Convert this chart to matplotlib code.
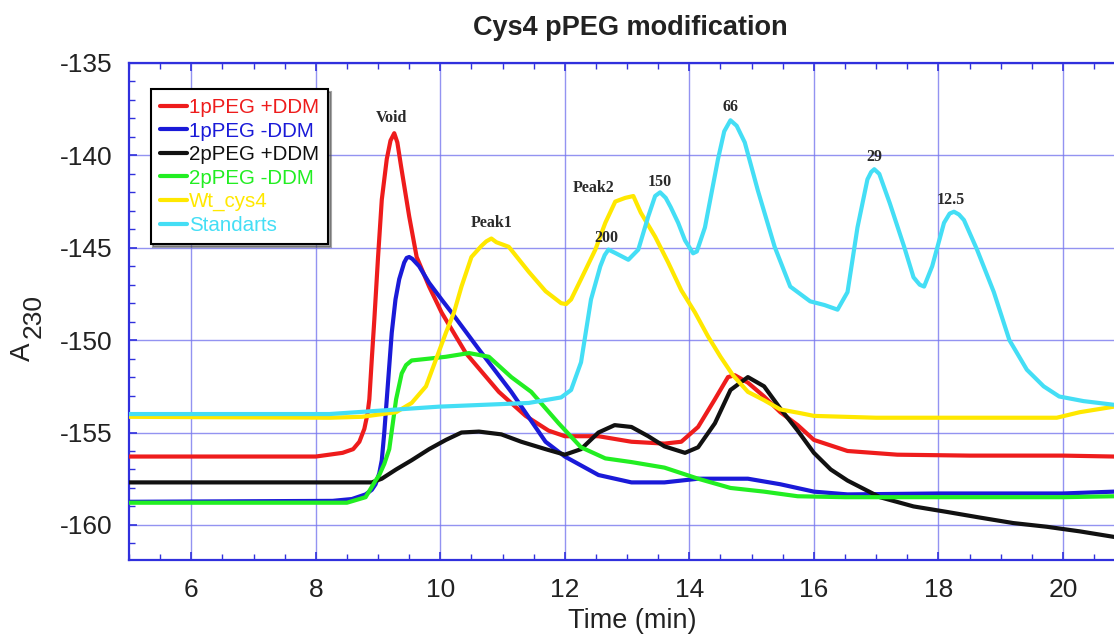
import matplotlib
matplotlib.use("Agg")
import matplotlib.pyplot as plt
from matplotlib.ticker import MultipleLocator

# ---------------- data ----------------
red_x = [5.0, 8.0, 8.43, 8.6, 8.7, 8.78, 8.83, 8.86, 8.9, 8.94, 9.0, 9.06, 9.14, 9.2, 9.26,
         9.31, 9.37, 9.5, 9.62, 9.82, 10.02, 10.41, 10.94, 11.37, 11.74, 12.0, 12.54, 13.07,
         13.6, 13.87, 14.14, 14.41, 14.62, 14.73, 14.94, 15.2, 15.46, 15.74, 16.0, 16.54,
         17.34, 18.5, 20.0, 20.82]
red_y = [-156.3, -156.3, -156.1, -155.9, -155.5, -154.8, -154.0, -153.2, -151.0, -148.9,
         -145.5, -142.4, -140.2, -139.2, -138.8, -139.3, -140.6, -143.3, -145.5, -147.1,
         -148.5, -150.7, -152.8, -154.1, -154.9, -155.2, -155.2, -155.5, -155.6, -155.5,
         -154.7, -153.2, -152.0, -151.9, -152.3, -153.05, -153.9, -154.6, -155.4, -156.0,
         -156.2, -156.25, -156.25, -156.3]

blue_x = [5.0, 8.27, 8.58, 8.8, 8.9, 8.96, 9.02, 9.06, 9.1, 9.14, 9.22, 9.28, 9.34, 9.42,
          9.46, 9.5, 9.55, 9.66, 9.82, 10.02, 10.18, 10.62, 11.14, 11.69, 12.0, 12.54, 13.07,
          13.6, 14.14, 14.94, 15.46, 16.0, 16.54, 18.0, 20.0, 20.82]
blue_y = [-158.75, -158.7, -158.6, -158.35, -158.1, -157.8, -157.2, -156.5, -155.0, -153.2,
          -149.6, -147.8, -146.7, -145.8, -145.55, -145.5, -145.6, -146.0, -146.9, -147.8,
          -148.5, -150.5, -152.8, -155.5, -156.3, -157.3, -157.7, -157.7, -157.5, -157.5,
          -157.8, -158.2, -158.35, -158.3, -158.3, -158.2]

black_x = [5.0, 8.9, 9.06, 9.29, 9.54, 9.82, 10.09, 10.34, 10.62, 10.98, 11.3, 11.69, 12.0,
           12.26, 12.54, 12.8, 13.07, 13.34, 13.6, 13.93, 14.14, 14.41, 14.66, 14.94, 15.2,
           15.46, 15.74, 16.0, 16.27, 16.54, 17.06, 17.6, 18.14, 18.66, 19.2, 19.74, 20.27,
           20.82]
black_y = [-157.7, -157.7, -157.5, -157.0, -156.5, -155.9, -155.4, -155.0, -154.95, -155.1,
           -155.5, -155.9, -156.2, -155.9, -155.0, -154.6, -154.7, -155.2, -155.75, -156.1,
           -155.8, -154.5, -152.7, -152.0, -152.5, -153.7, -154.9, -156.1, -157.0, -157.6,
           -158.5, -159.0, -159.3, -159.6, -159.9, -160.1, -160.35, -160.65]

green_x = [5.0, 8.5, 8.8, 8.96, 9.02, 9.1, 9.18, 9.29, 9.38, 9.45, 9.54, 9.82, 10.09, 10.46,
           10.78, 11.14, 11.46, 11.9, 12.26, 12.65, 13.07, 13.6, 14.14, 14.66, 15.2, 15.74,
           16.5, 18.0, 20.0, 20.82]
green_y = [-158.8, -158.8, -158.5, -157.6, -157.3, -156.7, -155.9, -153.2, -151.8, -151.35,
           -151.1, -151.0, -150.9, -150.7, -150.9, -152.0, -152.8, -154.5, -155.8, -156.4,
           -156.6, -156.9, -157.5, -158.0, -158.2, -158.45, -158.5, -158.5, -158.5, -158.45]

yellow_x = [5.0, 8.22, 8.74, 9.29, 9.54, 9.77, 9.93, 10.09, 10.22, 10.34, 10.5, 10.66, 10.74,
            10.82, 10.9, 10.98, 11.1, 11.42, 11.69, 11.94, 12.02, 12.1, 12.26, 12.49, 12.65,
            12.81, 12.97, 13.1, 13.22, 13.45, 13.66, 13.87, 14.09, 14.3, 14.5, 14.7, 14.94,
            15.2, 15.46, 15.78, 16.0, 17.0, 19.0, 19.9, 20.27, 20.82]
yellow_y = [-154.15, -154.2, -154.15, -153.9, -153.4, -152.5, -151.05, -149.6, -148.5, -147.1,
            -145.5, -144.9, -144.65, -144.5, -144.7, -144.8, -144.95, -146.3, -147.35, -148.0,
            -148.05, -147.8, -146.7, -145.1, -143.65, -142.5, -142.3, -142.2, -143.1, -144.4,
            -145.8, -147.3, -148.5, -149.8, -150.9, -151.9, -152.8, -153.25, -153.75, -153.95,
            -154.1, -154.2, -154.2, -154.2, -153.9, -153.6]

cyan_x = [5.0, 8.22, 9.98, 11.42, 11.94, 12.1, 12.26, 12.3, 12.42, 12.57, 12.64, 12.7, 12.82,
          13.02, 13.18, 13.34, 13.45, 13.53, 13.62, 13.7, 13.82, 13.93, 14.06, 14.12, 14.25,
          14.46, 14.56, 14.66, 14.76, 14.89, 15.1, 15.37, 15.62, 15.94, 16.17, 16.38, 16.54,
          16.7, 16.86, 16.92, 16.97, 17.05, 17.22, 17.45, 17.6, 17.7, 17.77, 17.9, 18.09,
          18.18, 18.25, 18.33, 18.41, 18.62, 18.89, 19.14, 19.42, 19.69, 19.94, 20.33, 20.82]
cyan_y = [-154.0, -154.0, -153.6, -153.4, -153.1, -152.7, -151.2, -150.35, -147.8, -146.0,
          -145.4, -145.1, -145.3, -145.65, -145.1, -143.3, -142.2, -142.0, -142.3, -142.8,
          -143.65, -144.6, -145.3, -145.2, -143.9, -140.2, -138.7, -138.1, -138.4, -139.3,
          -141.9, -144.95, -147.1, -147.9, -148.1, -148.35, -147.4, -143.9, -141.3, -140.9,
          -140.75, -141.0, -142.6, -144.95, -146.6, -147.0, -147.1, -146.0, -143.65, -143.15,
          -143.05, -143.2, -143.5, -145.1, -147.4, -150.0, -151.6, -152.5, -153.05, -153.3,
          -153.5]

labels = ["1pPEG +DDM", "1pPEG -DDM", "2pPEG +DDM", "2pPEG -DDM", "Wt_cys4", "Standarts"]
colors = ["#ee1c1c", "#1a1ad8", "#111111", "#22ee22", "#ffe800", "#44def5"]

ann_text = ["Void", "Peak1", "Peak2", "200", "150", "66", "29", "12.5"]
ann_x = [9.21, 10.82, 12.46, 12.66, 13.53, 14.66, 16.97, 18.2]
ann_y = [-137.97, -143.65, -141.76, -144.46, -141.43, -137.38, -140.08, -142.4]

xlim = (5.0, 20.82)
ylim = (-161.9, -135.0)

# ---------------- figure ----------------
plt.rcParams['font.family'] = ['Liberation Sans', 'DejaVu Sans']
plt.rcParams['axes.unicode_minus'] = False
fig = plt.figure(figsize=(11.14, 6.35), dpi=100)
ax = fig.add_axes([129/1114, 75/635, 1 - 129/1114, (560 - 63)/635])

grid_c = "#7878ee"
spine_c = "#3030dd"

series = [(red_x, red_y), (blue_x, blue_y), (black_x, black_y),
          (green_x, green_y), (yellow_x, yellow_y), (cyan_x, cyan_y)]
handles = []
for (xs, ys), lab, c in zip(series, labels, colors):
    h, = ax.plot(xs, ys, color=c, lw=3.0, label=lab, solid_joinstyle='round',
                 solid_capstyle='round', zorder=3)
    handles.append(h)

ax.set_xlim(*xlim)
ax.set_ylim(*ylim)
ax.xaxis.set_major_locator(MultipleLocator(2))
ax.xaxis.set_minor_locator(MultipleLocator(0.5))
ax.yaxis.set_major_locator(MultipleLocator(5))
ax.yaxis.set_minor_locator(MultipleLocator(1))
ax.grid(True, which='major', color=grid_c, lw=1.0, alpha=0.8, zorder=0)
ax.set_axisbelow(True)

for side in ['left', 'bottom', 'top']:
    ax.spines[side].set_color(spine_c)
    ax.spines[side].set_linewidth(1.6)
ax.spines['right'].set_visible(False)

ax.tick_params(which='both', direction='in', color=spine_c, top=True, right=False)
ax.tick_params(which='major', length=6, width=1.2, labelsize=19, labelcolor='#222222')
ax.tick_params(which='minor', length=4, width=1.0)
ax.tick_params(axis='y', which='major', pad=12)
ax.tick_params(axis='x', which='major', pad=13)

for t, x, y in zip(ann_text, ann_x, ann_y):
    ax.text(x, y, t, ha='center', va='center', fontsize=11.5, fontweight='bold',
            family='Liberation Serif', color='#2a2a2a', zorder=5)

leg = ax.legend(handles=handles, loc='upper left', bbox_to_anchor=(0.022, 0.948),
                borderaxespad=0, fontsize=14.8, frameon=True, fancybox=False, shadow=True,
                handlelength=1.3, handletextpad=0.1, labelspacing=0.22, borderpad=0.45)
leg.get_frame().set_edgecolor('black')
leg.get_frame().set_linewidth(1.5)
for txt, c in zip(leg.get_texts(), colors):
    txt.set_color(c)

fig.text(630/1114, 1 - 28/635, "Cys4 pPEG modification", ha='center', va='center',
         fontsize=19.5, fontweight='bold', color='#222222')
fig.text(632/1114, 1 - 621/635, "Time (min)", ha='center', va='center',
         fontsize=19.5, color='#222222')
fig.text(23/1114, 1 - 352/635, "A", ha='center', va='center',
         rotation=90, fontsize=20, color='#222222')
fig.text(34/1114, 1 - 316/635, "230", ha='center', va='center',
         rotation=90, fontsize=19, color='#222222')

fig.savefig("out.png", dpi=100)
